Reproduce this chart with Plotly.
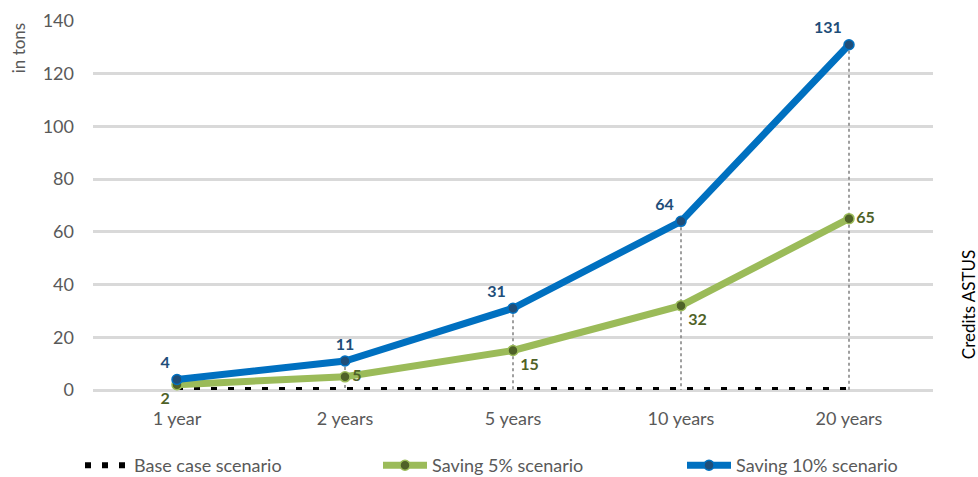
import plotly.graph_objects as go

categories = ["1 year", "2 years", "5 years", "10 years", "20 years"]
base_case = [0, 0, 0, 0, 0]
saving_5 = [2, 5, 15, 32, 65]
saving_10 = [4, 11, 31, 64, 131]
y_ticks = [0, 20, 40, 60, 80, 100, 120, 140]

FONT = "Lato, 'Open Sans', sans-serif"
GREY = "#595959"

fig = go.Figure()

# drop lines from highest series to axis
drop_x, drop_y = [], []
for c, v in zip(categories, saving_10):
    drop_x += [c, c, None]
    drop_y += [v, 0, None]
fig.add_trace(go.Scatter(x=drop_x, y=drop_y, mode="lines",
                         line=dict(color="#808080", width=1.5, dash="dot"),
                         showlegend=False, hoverinfo="skip"))

fig.add_trace(go.Scatter(x=categories, y=base_case, mode="lines",
                         name="Base case scenario", legend="legend",
                         line=dict(color="black", width=6, dash="6px,11px")))

fig.add_trace(go.Scatter(x=categories, y=saving_5, mode="lines+markers+text",
                         name="Saving 5% scenario", legend="legend2", cliponaxis=False,
                         line=dict(color="#9BBB59", width=7),
                         marker=dict(size=10, color="#4F6228", line=dict(color="#9BBB59", width=1.5)),
                         text=[str(v) for v in saving_5],
                         textposition=["bottom left", "middle right", "bottom right", "bottom right", "middle right"],
                         textfont=dict(family=FONT, size=16, color="#4F6228", weight="bold")))

fig.add_trace(go.Scatter(x=categories, y=saving_10, mode="lines+markers+text",
                         name="Saving 10% scenario", legend="legend3", cliponaxis=False,
                         line=dict(color="#0070C0", width=7),
                         marker=dict(size=10, color="#1F4E79", line=dict(color="#0070C0", width=1.5)),
                         text=[str(v) for v in saving_10],
                         textposition=["top left", "top center", "top left", "top left", "top left"],
                         textfont=dict(family=FONT, size=16, color="#1F4E79", weight="bold")))

fig.add_annotation(text="Credits ASTUS", xref="paper", yref="paper", x=1.0417, y=0.23,
                   textangle=-90, showarrow=False, font=dict(family=FONT, size=17, color="black"),
                   xanchor="center", yanchor="middle")
fig.add_annotation(text="in tons", xref="paper", yref="paper", x=-0.089, y=1.0,
                   textangle=-90, showarrow=False, font=dict(family=FONT, size=17, color=GREY),
                   xanchor="center", yanchor="top")

legend_common = dict(orientation="h", xref="container", yref="container",
                     xanchor="left", y=0.024, yanchor="middle",
                     font=dict(size=18, color=GREY), itemwidth=44,
                     bgcolor="rgba(0,0,0,0)")

fig.update_layout(
    width=978, height=477,
    margin=dict(l=93, r=45, t=21, b=87, autoexpand=False),
    plot_bgcolor="white", paper_bgcolor="white",
    font=dict(family=FONT, size=18, color=GREY),
    xaxis=dict(type="category", range=[-0.5, 4.5], showgrid=False, showline=False, ticks="",
               tickfont=dict(size=18, color=GREY), automargin=False, ticklabelstandoff=16),
    yaxis=dict(range=[0, 140], tickvals=y_ticks, showgrid=True, gridcolor="#D9D9D9",
               gridwidth=2.5, zeroline=True, zerolinecolor="#D9D9D9", zerolinewidth=2.5,
               tickfont=dict(size=18, color=GREY), ticks="", automargin=False,
               ticklabelstandoff=18),
    legend=dict(legend_common, x=80 / 978),
    legend2=dict(legend_common, x=378 / 978),
    legend3=dict(legend_common, x=682 / 978),
    showlegend=True,
)

fig.write_html("out.html", config={"displayModeBar": False},
               post_script="document.body.style.margin='0';")
